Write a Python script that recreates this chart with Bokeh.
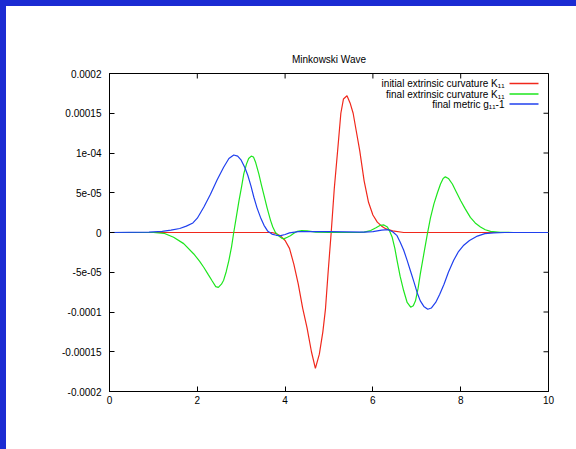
from bokeh.plotting import figure
from bokeh.models import Label, FixedTicker, Range1d, Spacer, ColumnDataSource
from bokeh.layouts import column, row
from bokeh.embed import file_html
from bokeh.resources import INLINE

# ---------------- data ----------------
title_text = "Minkowski Wave"
series_labels = ["initial extrinsic curvature K\u2081\u2081",
                 "final extrinsic curvature K\u2081\u2081",
                 "final metric g\u2081\u2081-1"]

x_ticks = [0, 2, 4, 6, 8, 10]
y_ticks = [-0.0002, -0.00015, -0.0001, -5e-05, 0, 5e-05, 0.0001, 0.00015, 0.0002]
y_tick_labels = ["-0.0002", "-0.00015", "-0.0001", "-5e-05", "0", "5e-05",
                 "1e-04", "0.00015", "0.0002"]

red_x = [0, 3.7, 3.8, 3.9, 4.0, 4.1, 4.2, 4.3, 4.4, 4.5, 4.6, 4.69, 4.78, 4.86,
         4.92, 4.98, 5.05, 5.12, 5.2, 5.27, 5.33, 5.41, 5.48, 5.55, 5.62, 5.7,
         5.8, 5.9, 6.0, 6.1, 6.2, 6.3, 6.45, 6.7, 10]
red_y = [0, 0, -1.5e-06, -4.5e-06, -1.0e-05, -2.0e-05, -4.0e-05, -6.5e-05,
         -9.5e-05, -1.2e-04, -1.5e-04, -1.71e-04, -1.53e-04, -1.25e-04,
         -9.6e-05, -5.0e-05, 0, 5.5e-05, 1.05e-04, 1.5e-04, 1.68e-04, 1.72e-04,
         1.63e-04, 1.5e-04, 1.28e-04, 1.03e-04, 6.5e-05, 3.8e-05, 2.2e-05,
         1.3e-05, 8e-06, 4.5e-06, 2e-06, 0, 0]

green_x = [0, 1.0, 1.24, 1.46, 1.69, 1.92, 2.05, 2.15, 2.25, 2.34, 2.42, 2.48,
           2.55, 2.6, 2.66, 2.72, 2.78, 2.83, 2.89, 2.95, 3.01, 3.06, 3.12,
           3.17, 3.23, 3.28, 3.33, 3.4, 3.46, 3.51, 3.59, 3.67, 3.72, 3.78,
           3.85, 3.92, 3.97, 4.05, 4.12, 4.2, 4.28, 4.38, 4.5, 4.7, 5.0, 5.7,
           5.8, 5.95, 6.07, 6.17, 6.25, 6.33, 6.38, 6.44, 6.5, 6.55, 6.62, 6.7,
           6.78, 6.86, 6.92, 6.97, 7.03, 7.08, 7.16, 7.24, 7.31, 7.39, 7.47,
           7.54, 7.6, 7.65, 7.72, 7.81, 7.9, 8.0, 8.1, 8.22, 8.33, 8.45, 8.56,
           8.68, 8.9, 9.2, 10]
green_y = [0, 0, -1e-06, -6e-06, -1.4e-05, -2.7e-05, -3.6e-05, -4.4e-05,
           -5.3e-05, -6.1e-05, -6.8e-05, -6.9e-05, -6.5e-05, -6.0e-05,
           -4.9e-05, -3.5e-05, -1.8e-05, 0, 2.0e-05, 4.0e-05, 5.8e-05, 7.4e-05,
           8.6e-05, 9.3e-05, 9.6e-05, 9.5e-05, 8.8e-05, 7.4e-05, 6.0e-05,
           4.9e-05, 3.1e-05, 1.5e-05, 7e-06, 0, -4e-06, -7e-06, -8e-06, -6e-06,
           -4e-06, -1e-06, 1.5e-06, 2.5e-06, 2e-06, 5e-07, 0, 0, 5e-07,
           2.5e-06, 6e-06, 9e-06, 9.5e-06, 7e-06, 2e-06, -6e-06, -2.0e-05,
           -3.5e-05, -5.5e-05, -7.3e-05, -8.8e-05, -9.4e-05, -9.2e-05,
           -8.6e-05, -7.0e-05, -5.2e-05, -2.7e-05, -2e-06, 1.8e-05, 3.6e-05,
           5.0e-05, 6.1e-05, 6.8e-05, 7.0e-05, 6.8e-05, 6.1e-05, 5.1e-05,
           4.0e-05, 3.0e-05, 1.9e-05, 1.2e-05, 7e-06, 3.5e-06, 1.5e-06, 2e-07,
           0, 0]

blue_x = [0, 0.9, 1.2, 1.4, 1.6, 1.75, 1.9, 2.0, 2.15, 2.3, 2.45, 2.6, 2.72,
          2.83, 2.92, 3.0, 3.08, 3.15, 3.22, 3.29, 3.36, 3.44, 3.52, 3.6, 3.7,
          3.8, 3.9, 4.0, 4.1, 4.3, 5.0, 5.8, 6.0, 6.2, 6.35, 6.45, 6.55, 6.62,
          6.7, 6.78, 6.86, 6.94, 7.01, 7.08, 7.16, 7.25, 7.33, 7.43, 7.52,
          7.62, 7.72, 7.84, 7.95, 8.07, 8.2, 8.38, 8.55, 8.75, 9.0, 10]
blue_y = [0, 5e-07, 1.5e-06, 3e-06, 5e-06, 8e-06, 1.2e-05, 1.8e-05, 3.2e-05,
          4.8e-05, 6.6e-05, 8.2e-05, 9.3e-05, 9.75e-05, 9.6e-05, 9.1e-05,
          8.2e-05, 7.2e-05, 5.9e-05, 4.4e-05, 3.1e-05, 1.9e-05, 9e-06, 2e-06,
          -2e-06, -3.5e-06, -4e-06, -2.5e-06, -5e-07, 1e-06, 1e-06, 5e-07,
          1e-06, 3e-06, 3.5e-06, 1e-06, -4e-06, -1.2e-05, -2.2e-05, -3.5e-05,
          -4.9e-05, -6.3e-05, -7.6e-05, -8.6e-05, -9.3e-05, -9.65e-05,
          -9.5e-05, -8.8e-05, -7.8e-05, -6.5e-05, -5.0e-05, -3.5e-05,
          -2.4e-05, -1.6e-05, -1.0e-05, -4.5e-06, -1.5e-06, -5e-07, 0, 0]

# ---------------- styling ----------------
FONT = "Liberation Sans"
BLUE_BG = "#1b2bd3"
RED = "#f0281c"
GREEN = "#1ee61e"
BLUE = "#2040ee"

X0, X1 = 0, 10
Y0, Y1 = -0.0002, 0.0002
FRAME_W, FRAME_H = 439, 318

p = figure(width=570, height=443, x_range=Range1d(X0, X1),
           y_range=Range1d(Y0, Y1), output_backend="svg",
           toolbar_location=None, title=title_text,
           min_border_left=103, min_border_right=28,
           min_border_top=67, min_border_bottom=58)
p.title.align = "center"
p.title.text_font = FONT
p.title.text_font_size = "10px"
p.title.text_font_style = "normal"
p.title.text_color = "black"
p.title.standoff = 18
p.grid.visible = False
p.outline_line_color = "black"
p.border_fill_color = "white"

p.xaxis.ticker = FixedTicker(ticks=x_ticks)
p.yaxis.ticker = FixedTicker(ticks=y_ticks)
p.yaxis.major_label_overrides = {v: s for v, s in zip(y_ticks, y_tick_labels)}
p.xaxis.major_label_standoff = 4
p.yaxis.major_label_standoff = 8
for ax in p.axis:
    ax.major_tick_in = 5
    ax.major_tick_out = 0
    ax.minor_tick_line_color = None
    ax.axis_line_color = "black"
    ax.major_tick_line_color = "black"
    ax.major_label_text_font = FONT
    ax.major_label_text_font_size = "10px"
    ax.major_label_text_color = "black"

# mirrored inward ticks on the top and right edges (clipped to the frame)
p.scatter(x_ticks, [Y1] * len(x_ticks), marker="dash", angle=1.5708,
          size=10, line_color="black", line_width=1)
p.scatter([X1] * len(y_ticks), y_ticks, marker="dash",
          size=10, line_color="black", line_width=1)

colors = [RED, GREEN, BLUE]
for xv, yv, c in zip([red_x, green_x, blue_x], [red_y, green_y, blue_y], colors):
    p.line(xv, yv, line_color=c, line_width=1.2)

# legend (gnuplot style: text right-aligned, sample line to its right)
row_px = [308, 297.5, 287.5]          # rows, pixels above the frame bottom
sx = lambda px: X0 + (X1 - X0) * px / FRAME_W
sy = lambda px: Y0 + (Y1 - Y0) * px / FRAME_H
leg = ColumnDataSource(dict(x0=[sx(400)] * 3, x1=[sx(429)] * 3,
                            y=[sy(v) for v in row_px], color=colors))
p.segment(x0="x0", y0="y", x1="x1", y1="y", line_color="color",
          line_width=1.3, source=leg)
for lab, yy in zip(series_labels, row_px):
    p.add_layout(Label(x=395, y=yy, x_units="screen", y_units="screen",
                       text=lab, text_align="right", text_baseline="middle",
                       text_font=FONT, text_font_size="10px",
                       text_color="black"))

top_band = Spacer(width=576, height=6, margin=0,
                  styles={"background-color": BLUE_BG})
left_band = Spacer(width=6, height=443, margin=0,
                   styles={"background-color": BLUE_BG})

layout = column(top_band, row(left_band, p, spacing=0), spacing=0)
open("out.html", "w").write(file_html(layout, INLINE))
